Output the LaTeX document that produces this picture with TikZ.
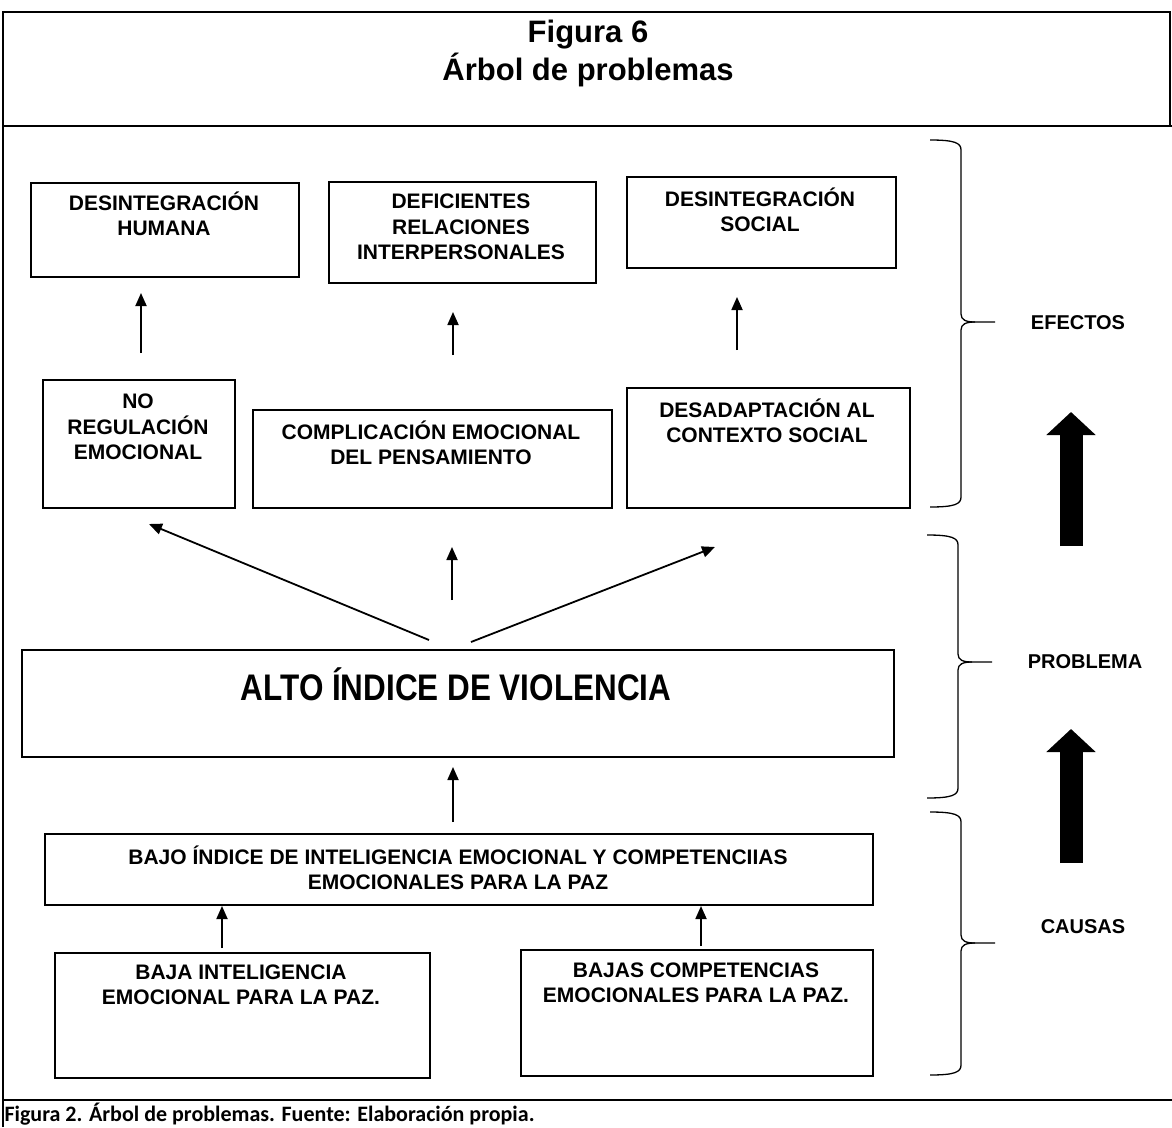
\documentclass[tikz,border=0pt]{standalone}
\usepackage{fontspec}
\setmainfont{Liberation Sans}
\newfontfamily\angosta{Liberation Sans}[FakeStretch=0.85]
\newfontfamily\calibri{Carlito}
\usetikzlibrary{arrows.meta,positioning}

\begin{document}
\begin{tikzpicture}[x=1pt,y=-1pt,
    caja/.style={draw, line width=1.6pt, anchor=north west, inner sep=0pt},
    texto/.style={font=\bfseries\fontsize{21}{25.5}\selectfont, align=center},
    rotulo/.style={font=\bfseries\fontsize{20}{24}\selectfont},
    flecha/.style={line width=1.8pt, -{Triangle[length=13pt,width=11pt]}},
    grande/.style={line width=23pt, -{Triangle[length=23pt,width=48pt]}}]

    \useasboundingbox (0,0) rectangle (1172,1127);

    % marco
    \draw[line width=2.4pt] (3,1127) -- (3,12) -- (1170,12) -- (1170,126);
    \draw[line width=2.4pt] (3,126) -- (1172,126);
    \draw[line width=2.4pt] (3,1100) -- (1172,1100);

    % título
    \node[font=\bfseries\fontsize{31}{38}\selectfont, align=center] (tit) at (588,53)
        {Figura 6\\Árbol de problemas};

    % efectos
    \node[caja, minimum width=268pt, minimum height=94pt] (dh) at (30,182) {};
    \node[caja, minimum width=267pt, minimum height=101pt] (dri) at (328,181) {};
    \node[caja, minimum width=269pt, minimum height=91pt] (ds) at (626,176) {};
    \node[caja, minimum width=192pt, minimum height=128pt] (nr) at (42,379) {};
    \node[caja, minimum width=359pt, minimum height=98pt] (cep) at (252,409) {};
    \node[caja, minimum width=283pt, minimum height=120pt] (dcs) at (626,387) {};

    \node[texto] (dh-t) at (164,214) {DESINTEGRACIÓN\\HUMANA};
    \node[texto] (dri-t) at (461,227) {DEFICIENTES\\RELACIONES\\INTERPERSONALES};
    \node[texto] (ds-t) at (760,210) {DESINTEGRACIÓN\\SOCIAL};
    \node[texto] (nr-t) at (138,427) {NO\\REGULACIÓN\\EMOCIONAL};
    \node[texto] (cep-t) at (431,443) {COMPLICACIÓN EMOCIONAL\\DEL PENSAMIENTO};
    \node[texto] (dcs-t) at (767,421) {DESADAPTACIÓN AL\\CONTEXTO SOCIAL};

    % problema
    \node[caja, minimum width=872pt, minimum height=107pt] (alto) at (21,649) {};
    \node[font=\angosta\bfseries\fontsize{37}{40}\selectfont] (alto-t) at (456,684)
        {ALTO ÍNDICE DE VIOLENCIA};

    % causas
    \node[caja, minimum width=828pt, minimum height=71pt] (bajo) at (44,833) {};
    \node[caja, minimum width=375pt, minimum height=125pt] (bie) at (54,952) {};
    \node[caja, minimum width=352pt, minimum height=126pt] (bce) at (520,949) {};

    \node[texto] (bajo-t) at (458,868)
        {BAJO ÍNDICE DE INTELIGENCIA EMOCIONAL Y COMPETENCIIAS\\EMOCIONALES PARA LA PAZ};
    \node[texto] (bie-t) at (241,985) {BAJA INTELIGENCIA\\EMOCIONAL PARA LA PAZ.};
    \node[texto] (bce-t) at (696,983) {BAJAS COMPETENCIAS\\EMOCIONALES PARA LA PAZ.};

    % puntas de las flechas
    \coordinate (f1a) at (141,353); \coordinate (f1b) at (141,293);
    \coordinate (f2a) at (453,355); \coordinate (f2b) at (453,312);
    \coordinate (f3a) at (737,350); \coordinate (f3b) at (737,297);
    \coordinate (v1) at (429,640); \coordinate (v1b) at (149,524);
    \coordinate (v2) at (452,600); \coordinate (v2b) at (452,547);
    \coordinate (v3) at (471,642); \coordinate (v3b) at (715,547);
    \coordinate (c0) at (453,822); \coordinate (c0b) at (453,767);
    \coordinate (c1) at (222,948); \coordinate (c1b) at (222,906);
    \coordinate (c2) at (701,946); \coordinate (c2b) at (701,906);

    \draw[flecha] (f1a) -- (f1b);
    \draw[flecha] (f2a) -- (f2b);
    \draw[flecha] (f3a) -- (f3b);
    \draw[flecha] (v1) -- (v1b);
    \draw[flecha] (v2) -- (v2b);
    \draw[flecha] (v3) -- (v3b);
    \draw[flecha] (c0) -- (c0b);
    \draw[flecha] (c1) -- (c1b);
    \draw[flecha] (c2) -- (c2b);

    % llaves
    \foreach \s/\t/\m/\b/\lx/\ly/\lab [count=\i] in
        {961/140/322/507/1078/323/EFECTOS, 958/535/662/798/1085/662/PROBLEMA,
         961/812/943/1075/1083/927/CAUSAS}
    {
        \draw[line width=1.3pt] (\s-31,\t) .. controls (\s-6,\t) and (\s,\t+3) .. (\s,\t+10)
            -- (\s,\m-8) .. controls (\s,\m-2) and (\s+5,\m) .. (\s+14,\m) -- (\s+34,\m);
        \draw[line width=1.3pt] (\s+14,\m) .. controls (\s+5,\m) and (\s,\m+2) .. (\s,\m+8)
            -- (\s,\b-10) .. controls (\s,\b-3) and (\s-6,\b) .. (\s-31,\b);
        \node[rotulo] (lab\i) at (\lx,\ly) {\lab};
    }

    % flechas gruesas
    \coordinate (g1) at (1071,546); \coordinate (g1b) at (1071,412);
    \coordinate (g2) at (1071,863); \coordinate (g2b) at (1071,729);
    \draw[grande] (g1) -- (g1b);
    \draw[grande] (g2) -- (g2b);

    % pie
    \node[anchor=west, font=\calibri\bfseries\fontsize{22}{24}\selectfont] (pie) at (1,1114)
        {Figura 2. Árbol de problemas. Fuente: Elaboración propia.};

\end{tikzpicture}
\end{document}
